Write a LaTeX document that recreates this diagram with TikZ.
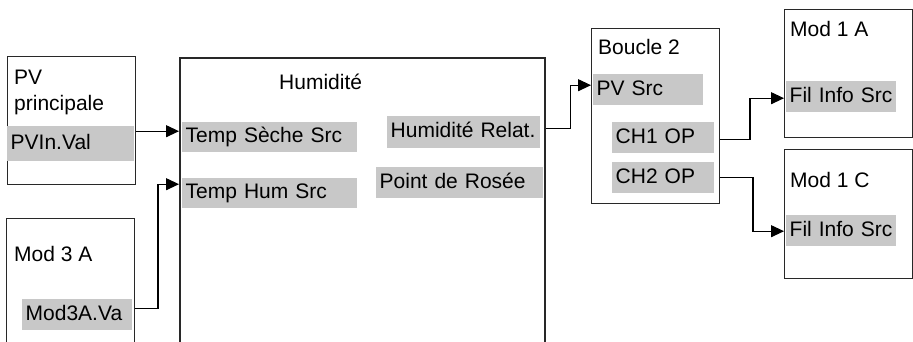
\documentclass[tikz,border=0pt]{standalone}
\usepackage{fontspec}
\setmainfont{Liberation Sans}
\usetikzlibrary{arrows.meta,calc}
\definecolor{fieldgrey}{RGB}{200,200,200}
\definecolor{boxline}{RGB}{40,40,40}
\begin{document}
\begin{tikzpicture}[x=1pt,y=-1pt,
  font=\fontsize{21}{26}\selectfont,
  blk/.style={draw=boxline,line width=1pt,anchor=north west,inner sep=0pt},
  fld/.style={fill=fieldgrey,anchor=north west,inner xsep=3.5pt,inner ysep=0pt,align=left,
              text height=15pt,text depth=4pt},
  ttl/.style={anchor=base west,inner sep=0pt},
  conn/.style={draw=black,line width=1.1pt},
  arr/.style={conn,-{Triangle[length=13pt,width=12pt]}}
]
\useasboundingbox (0,0) rectangle (913,342);
\clip (0,0) rectangle (913,342);
\fill[white] (0,0) rectangle (913,342);

% blocks
\node[blk,minimum width=128pt,minimum height=128pt] (pvbox) at (7,56) {};
\node[blk,line width=1.8pt,minimum width=365pt,minimum height=320pt] (hum) at (179,57) {};
\node[blk,minimum width=128pt,minimum height=140pt] (m3box) at (6,218) {};
\node[blk,minimum width=128pt,minimum height=175pt] (boucle) at (591,28) {};
\node[blk,minimum width=128pt,minimum height=128pt] (m1a) at (784,9) {};
\node[blk,minimum width=128pt,minimum height=129pt] (m1c) at (784,149) {};

% titles
\node[ttl,align=left,anchor=north west] (pvt) at (14,70) {PV\\principale};
\node[ttl] (humt) at (279,90) {Humidité};
\node[ttl] (m3t) at (14,261.5) {Mod 3 A};
\node[ttl] (bt) at (598,55) {Boucle 2};
\node[ttl] (m1at) at (790,37) {Mod 1 A};
\node[ttl] (m1ct) at (790,187) {Mod 1 C};

% fields
\node[fld,minimum height=35pt,text width=120pt] (pvin) at (7,126) {PVIn.Val};
\node[fld,minimum height=30pt,text width=168pt] (tse) at (182,122) {Temp Sèche Src};
\node[fld,minimum height=30pt,text width=168pt] (thsrc) at (182,178) {Temp Hum Src};
\node[fld,minimum height=31pt,text width=103pt] (m3v) at (22,299) {Mod3A.Va};
\node[fld,minimum height=32pt,text width=146pt] (hr) at (387,116) {Humidité~Relat.};
\node[fld,minimum height=31pt,text width=160pt] (pdr) at (376,167) {Point de Rosée};
\node[fld,minimum height=31pt,text width=103pt] (pvsrc) at (593,74) {PV Src};
\node[fld,minimum height=31pt,text width=95pt] (ch1) at (612,122) {CH1 OP};
\node[fld,minimum height=31pt,text width=95pt] (ch2) at (612,162) {CH2 OP};
\node[fld,minimum height=31pt,text width=103pt] (fil1) at (786,81) {Fil~Info~Src};
\node[fld,minimum height=31pt,text width=103pt] (fil2) at (786,215) {Fil~Info~Src};

% connectors
\draw[arr] (pvin.east -| pvbox.east) ++(0,-12.5) coordinate (c1) -- (c1 -| hum.west);
\draw[arr] (m3v.east -| m3box.east) ++(0,-6.5) -- ++(23,0) |- ($(thsrc.west -| hum.west)+(0,-9)$);
\draw[arr] (hr.east -| hum.east) ++(0,-4) -- ++(25,0) |- ($(pvsrc.west -| boucle.west)+(0,-4.5)$);
\draw[arr] (ch1.east -| boucle.east) ++(0,1.5) -- ++(30,0) |- ($(fil1.west -| m1a.west)+(0,1.5)$);
\draw[arr] (ch2.east -| boucle.east) -- ++(33,0) |- ($(fil2.west -| m1c.west)+(0,0.5)$);
\end{tikzpicture}
\end{document}
